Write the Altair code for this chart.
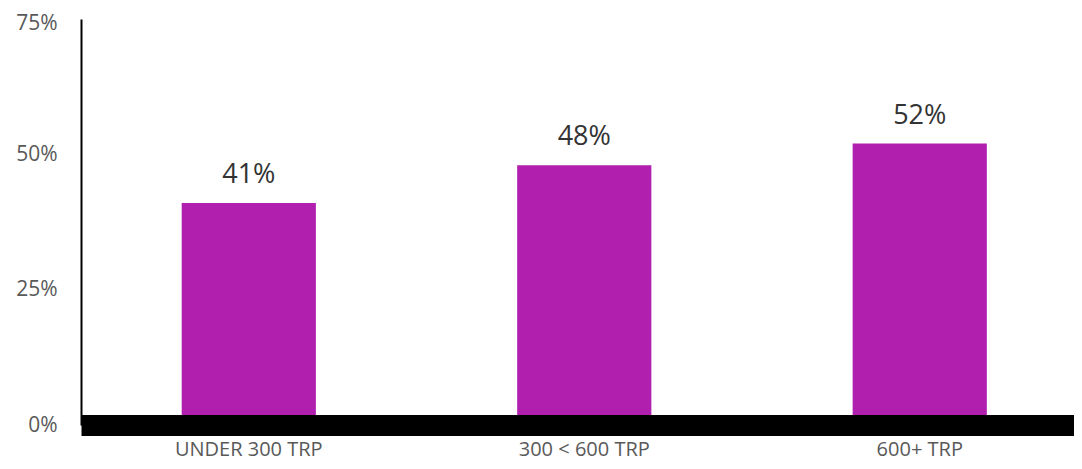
import altair as alt
import pandas as pd

categories = ["UNDER 300 TRP", "300 < 600 TRP", "600+ TRP"]
values = [0.41, 0.48, 0.52]
y_ticks = [0, 0.25, 0.5, 0.75]

df = pd.DataFrame({"cat": categories, "val": values})

FONT = "Open Sans"

x = alt.X(
    "cat:N",
    sort=categories,
    title=None,
    scale=alt.Scale(paddingInner=0.6, paddingOuter=0.28, align=0.536),
    axis=alt.Axis(
        labelAngle=0,
        labelFont=FONT,
        labelFontSize=20,
        labelColor="#595959",
        labelBaseline="alphabetic",
        labelPadding=30,
        ticks=False,
        domainColor="#000000",
        domainWidth=21,
        zindex=1,
    ),
)
y = alt.Y(
    "val:Q",
    title=None,
    scale=alt.Scale(domain=[0, 0.75], nice=False),
    axis=alt.Axis(
        values=y_ticks,
        format=".0%",
        grid=False,
        ticks=False,
        labelFont=FONT,
        labelFontSize=21,
        labelColor="#595959",
        labelPadding=24,
        labelOffset={"condition": {"test": "datum.value >= 0.75", "value": 4}, "value": 0},
        domainColor="#000000",
        domainWidth=2,
    ),
)

bars = alt.Chart(df).mark_bar(color="#B01FAD").encode(x=x, y=y)
labels = alt.Chart(df).mark_text(
    font=FONT, fontSize=27, color="#333333", baseline="alphabetic", dy=-20
).encode(
    x=alt.X("cat:N", sort=categories),
    y=alt.Y("val:Q"),
    text=alt.Text("val:Q", format=".0%"),
)

chart = (
    alt.layer(bars, labels)
    .properties(
        width=993,
        height=406,
        autosize=alt.AutoSizeParams(type="none"),
        padding={"left": 73, "top": 11, "right": 0, "bottom": 36},
    )
    .configure_view(stroke=None)
)

chart.save("out.html", embed_options={"renderer": "svg", "actions": False})
